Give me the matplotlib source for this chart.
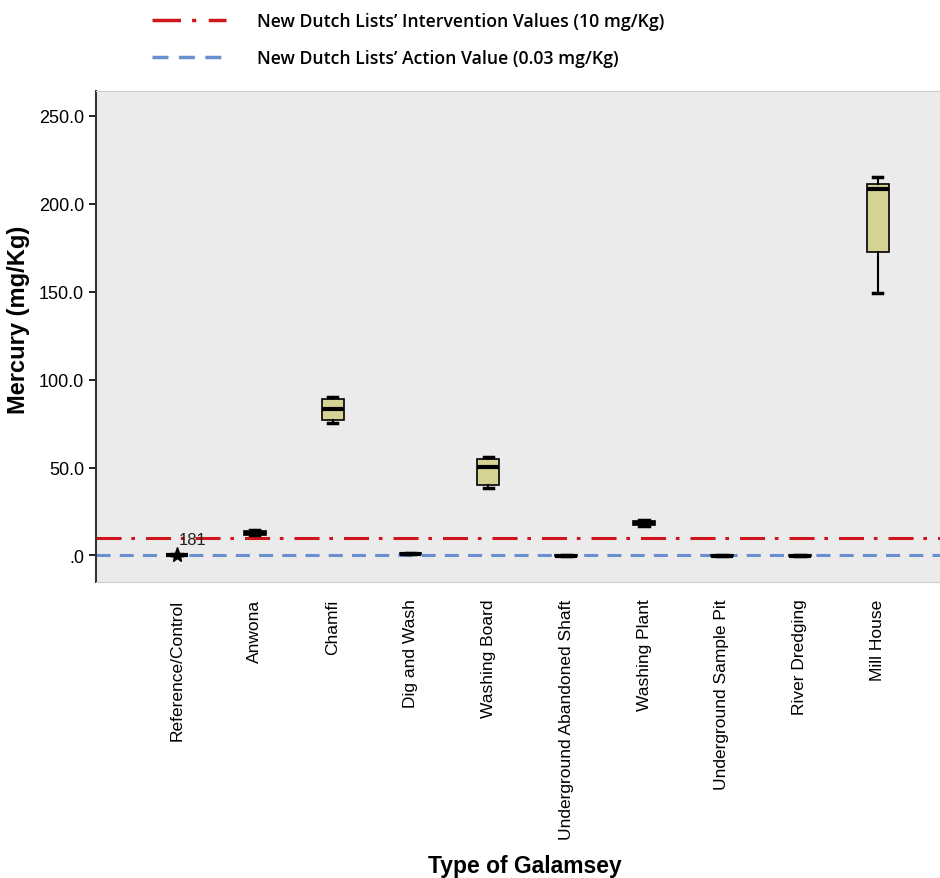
import matplotlib.pyplot as plt
from matplotlib.lines import Line2D

plt.rcParams['font.family'] = ['Liberation Sans', 'DejaVu Sans']

# boxplot summary (mg/Kg)
sites = ['Reference/Control', 'Anwona', 'Chamfi', 'Dig and Wash', 'Washing Board',
         'Underground Abandoned Shaft', 'Washing Plant', 'Underground Sample Pit',
         'River Dredging', 'Mill House']
whis_lo = [0.0, 11.5, 75.5, 0.6, 38.6, -0.6, 17.0, -0.6, -0.6, 149.4]
q1 = [0.0, 11.8, 77.0, 0.7, 40.0, -0.4, 17.5, -0.4, -0.4, 172.7]
medians = [0.0, 12.8, 83.0, 0.9, 50.5, -0.2, 18.6, -0.2, -0.2, 208.5]
q3 = [0.0, 13.8, 89.0, 1.1, 55.0, 0.0, 19.8, 0.0, 0.0, 211.0]
whis_hi = [0.0, 14.2, 90.0, 1.2, 56.0, 0.1, 20.2, 0.1, 0.1, 215.0]
outlier_val = 0.0
outlier_label = '181'

intervention = 10
action = 0.03

red_style = (0, (8.2, 3.2, 1.2, 3.6))
blue_style = (0, (4.6, 3.0))

fig = plt.figure(figsize=(9.4, 8.79), dpi=100)
ax = fig.add_axes([0.102, 0.337, 0.898, 0.558])
ax.set_facecolor('#ebebeb')

stats = []
for i in range(len(sites)):
    stats.append(dict(whislo=whis_lo[i], q1=q1[i], med=medians[i], q3=q3[i],
                      whishi=whis_hi[i], fliers=[]))

ax.bxp(stats, positions=range(len(sites)), widths=0.28, patch_artist=True,
       boxprops=dict(facecolor='#d4d394', edgecolor='black', linewidth=1.2),
       medianprops=dict(color='black', linewidth=3),
       whiskerprops=dict(color='black', linewidth=1.5),
       capprops=dict(color='black', linewidth=2.5), capwidths=0.12)

ax.axhline(intervention, color='#d0161c', linestyle=red_style, linewidth=2.2, zorder=1)
ax.axhline(action, color='#6a8fd0', linestyle=blue_style, linewidth=2.2, zorder=1)

ax.plot([0], [outlier_val], marker='*', color='black', markersize=11, zorder=5)
ax.text(0.02, outlier_val + 5, outlier_label, fontsize=12, color='#222222', va='bottom', ha='left')

ax.set_xlim(-1.04, 9.8)
ax.set_ylim(-15, 264)
ax.set_yticks([0, 50, 100, 150, 200, 250])
ax.set_yticklabels(['.0', '50.0', '100.0', '150.0', '200.0', '250.0'], fontsize=13)
ax.set_xticks(range(len(sites)))
ax.set_xticklabels(sites, rotation=90, fontsize=12.5)
ax.tick_params(axis='x', length=0, pad=12)
ax.tick_params(axis='y', length=5, width=1.2)

for s in ['top', 'right', 'bottom']:
    ax.spines[s].set_color('#cccccc')
ax.spines['left'].set_color('#333333')
ax.spines['left'].set_linewidth(1.5)

ax.set_ylabel('Mercury (mg/Kg)', fontsize=17, fontweight='bold')
ax.yaxis.set_label_coords(-0.078, 0.535)
fig.text(0.558, 0.027, 'Type of Galamsey', fontsize=16.5, fontweight='bold', ha='center', va='top')

handles = [Line2D([], [], color='#d0161c', linestyle=red_style, linewidth=2.5),
           Line2D([], [], color='#6a8fd0', linestyle=blue_style, linewidth=2.5)]
labels = ["New Dutch Lists\u2019 Intervention Values (10 mg/Kg)",
          "New Dutch Lists\u2019 Action Value (0.03 mg/Kg)"]
fig.legend(handles, labels, loc='upper left', bbox_to_anchor=(0.145, 1.003), frameon=False,
           handlelength=4.2, handletextpad=1.75, labelspacing=1.05,
           prop=dict(family='Open Sans', weight='semibold', size=12.7))

fig.savefig('out.png', dpi=100)
